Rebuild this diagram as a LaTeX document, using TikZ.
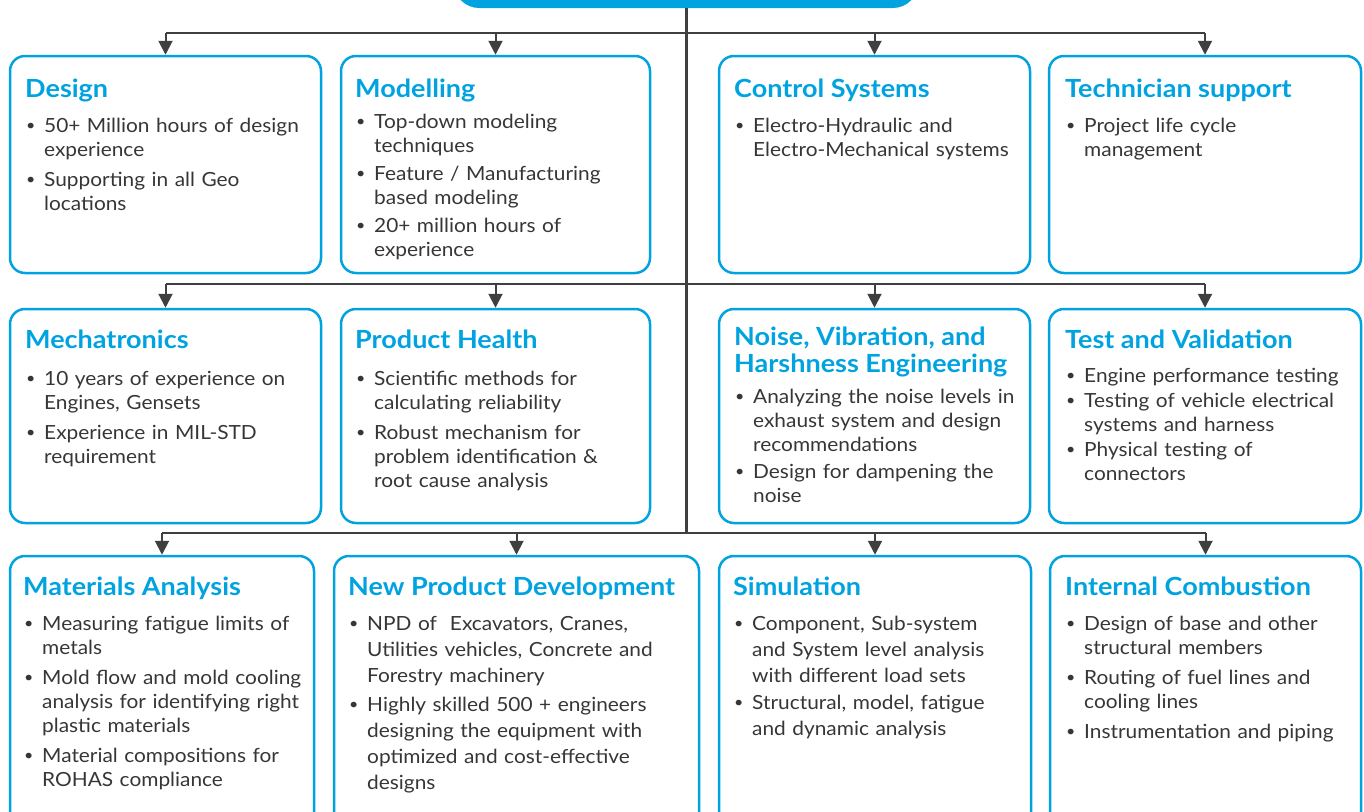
\documentclass[tikz,border=0pt]{standalone}
\usepackage{fontspec}
\setmainfont{Lato}[FakeStretch=1.07]
\newfontfamily\ttlfam{Lato}[FakeStretch=1.08]
\usetikzlibrary{arrows.meta}
\definecolor{cyanb}{HTML}{00A3E0}
\definecolor{txt}{HTML}{363636}
\definecolor{ln}{HTML}{3F3F42}
\newcommand{\bodyfont}{\fontsize{19.5}{24}\selectfont}
\newcommand{\ttlfont}{\ttlfam\fontsize{25}{27}\selectfont\bfseries\color{cyanb}}
\newcommand{\ttl}[1]{{\ttlfont #1\par}}
\newcommand{\nl}{\newline}
\newcommand{\bul}{\raisebox{1.5pt}{\fontsize{15}{15}\selectfont\textbullet}}
\newcommand{\bitem}[2][6pt]{\par\vspace{#1}\noindent\hangindent=19pt\hangafter=1\makebox[19pt][l]{\hspace*{1pt}\bul}#2\par}
\tikzset{
  box/.style={draw=cyanb, line width=2.5pt, rounded corners=15pt, inner sep=0pt},
  txtnode/.style={anchor=base west, inner sep=0pt, text width=340pt, font=\bodyfont, text=txt},
  bus/.style={draw=ln, line width=2pt},
  trunk/.style={draw=ln, line width=3pt},
  arr/.style={draw=ln, line width=2pt, -{Triangle[width=14pt,length=14pt]}},
  hdr/.style={fill=cyanb, rounded corners=25pt, inner sep=0pt}
}
\begin{document}
\begin{tikzpicture}[x=1pt,y=-1pt]
\useasboundingbox (0,0) rectangle (1364,811);
% header
\node[hdr, minimum width=464pt, minimum height=60pt] (header) at (686,-22) {};
% boxes row 1
\node[box, minimum width=311pt, minimum height=217pt] (design) at (165.5,164.5) {};
\node[box, minimum width=309pt, minimum height=217pt] (modelling) at (495.5,164.5) {};
\node[box, minimum width=311pt, minimum height=217pt] (control) at (874.5,164.5) {};
\node[box, minimum width=312pt, minimum height=217pt] (tech) at (1205,164.5) {};
% row 2
\node[box, minimum width=311pt, minimum height=214pt] (mech) at (165.5,416) {};
\node[box, minimum width=309pt, minimum height=214pt] (health) at (495.5,416) {};
\node[box, minimum width=311pt, minimum height=214pt] (nvh) at (874.5,416) {};
\node[box, minimum width=312pt, minimum height=214pt] (test) at (1205,416) {};
% row 3
\node[box, minimum width=304pt, minimum height=284pt] (mat) at (162,698) {};
\node[box, minimum width=365pt, minimum height=284pt] (npd) at (516.5,698) {};
\node[box, minimum width=312pt, minimum height=284pt] (sim) at (875,698) {};
\node[box, minimum width=311pt, minimum height=284pt] (ic) at (1205.5,698) {};

% texts row 1
\node[txtnode] (t-design) at (25,97) {\ttl{Design}%
\bitem[11pt]{50+ Million hours of design\nl experience}%
\bitem{Supporting in all Geo\nl locations}};
\node[txtnode] (t-modelling) at (355,97) {\ttl{Modelling}%
\bitem[7pt]{Top-down modeling\nl techniques}%
\bitem[4pt]{Feature / Manufacturing\nl based modeling}%
\bitem[4pt]{20+ million hours of\nl experience}};
\node[txtnode] (t-control) at (734,97) {\ttl{Control Systems}%
\bitem[11pt]{Electro-Hydraulic and\nl Electro-Mechanical systems}};
\node[txtnode] (t-tech) at (1065,97) {\ttl{Technician support}%
\bitem[11pt]{Project life cycle\nl management}};

% texts row 2
\node[txtnode] (t-mech) at (25,348) {\ttl{Mechatronics}%
\bitem[13pt]{10 years of experience on\nl Engines, Gensets}%
\bitem{Experience in MIL-STD\nl requirement}};
\node[txtnode] (t-health) at (355,348) {\ttl{Product Health}%
\bitem[13pt]{Scientific methods for\nl calculating reliability}%
\bitem{Robust mechanism for\nl problem identification \&\nl root cause analysis}};
\node[txtnode] (t-nvh) at (734,345) {\ttl{Noise, Vibration, and\newline Harshness Engineering}%
\bitem[7pt]{Analyzing the noise levels in\nl exhaust system and design\nl recommendations}%
\bitem[3pt]{Design for dampening the\nl noise}};
\node[txtnode] (t-test) at (1065,348) {\ttl{Test and Validation}%
\bitem[10pt]{Engine performance testing}%
\bitem[1pt]{Testing of vehicle electrical\nl systems and harness}%
\bitem[1pt]{Physical testing of\nl connectors}};

% texts row 3
\node[txtnode] (t-mat) at (23,595) {\ttl{Materials Analysis}%
\bitem[11pt]{Measuring fatigue limits of\nl metals}%
\bitem{Mold flow and mold cooling\nl analysis for identifying right\nl plastic materials}%
\bitem{Material compositions for\nl ROHAS compliance}};
\node[txtnode] (t-npd) at (348,595) {\ttl{New Product Development}%
{\fontsize{19.5}{26}\selectfont
\bitem[9pt]{NPD of \ Excavators, Cranes,\nl Utilities vehicles, Concrete and\nl Forestry machinery}%
\bitem[3pt]{Highly skilled 500 + engineers\nl designing the equipment with\nl optimized and cost-effective\nl designs}}};
\node[txtnode] (t-sim) at (733,595) {\ttl{Simulation}%
{\fontsize{19.5}{26}\selectfont
\bitem[9pt]{Component, Sub-system\nl and System level analysis\nl with different load sets}%
\bitem[1pt]{Structural, model, fatigue\nl and dynamic analysis}}};
\node[txtnode] (t-ic) at (1065,595) {\ttl{Internal Combustion}%
\bitem[11pt]{Design of base and other\nl structural members}%
\bitem{Routing of fuel lines and\nl cooling lines}%
\bitem{Instrumentation and piping}};

% connectors
\coordinate (b1) at (686,33);
\coordinate (b2) at (686,284);
\coordinate (b3) at (686,533);
\draw[trunk] (header.south) -- (b3);
\draw[bus] (design.north |- b1) -- (tech.north |- b1);
\draw[bus] (mech.north |- b2) -- (test.north |- b2);
\draw[bus] (mat.north |- b3) -- (ic.north |- b3);
\foreach \n in {design,modelling,control,tech}{\draw[arr] (\n.north |- b1) -- (\n.north);}
\foreach \n in {mech,health,nvh,test}{\draw[arr] (\n.north |- b2) -- (\n.north);}
\foreach \n in {mat,npd,sim,ic}{\draw[arr] (\n.north |- b3) -- (\n.north);}
\end{tikzpicture}
\end{document}
